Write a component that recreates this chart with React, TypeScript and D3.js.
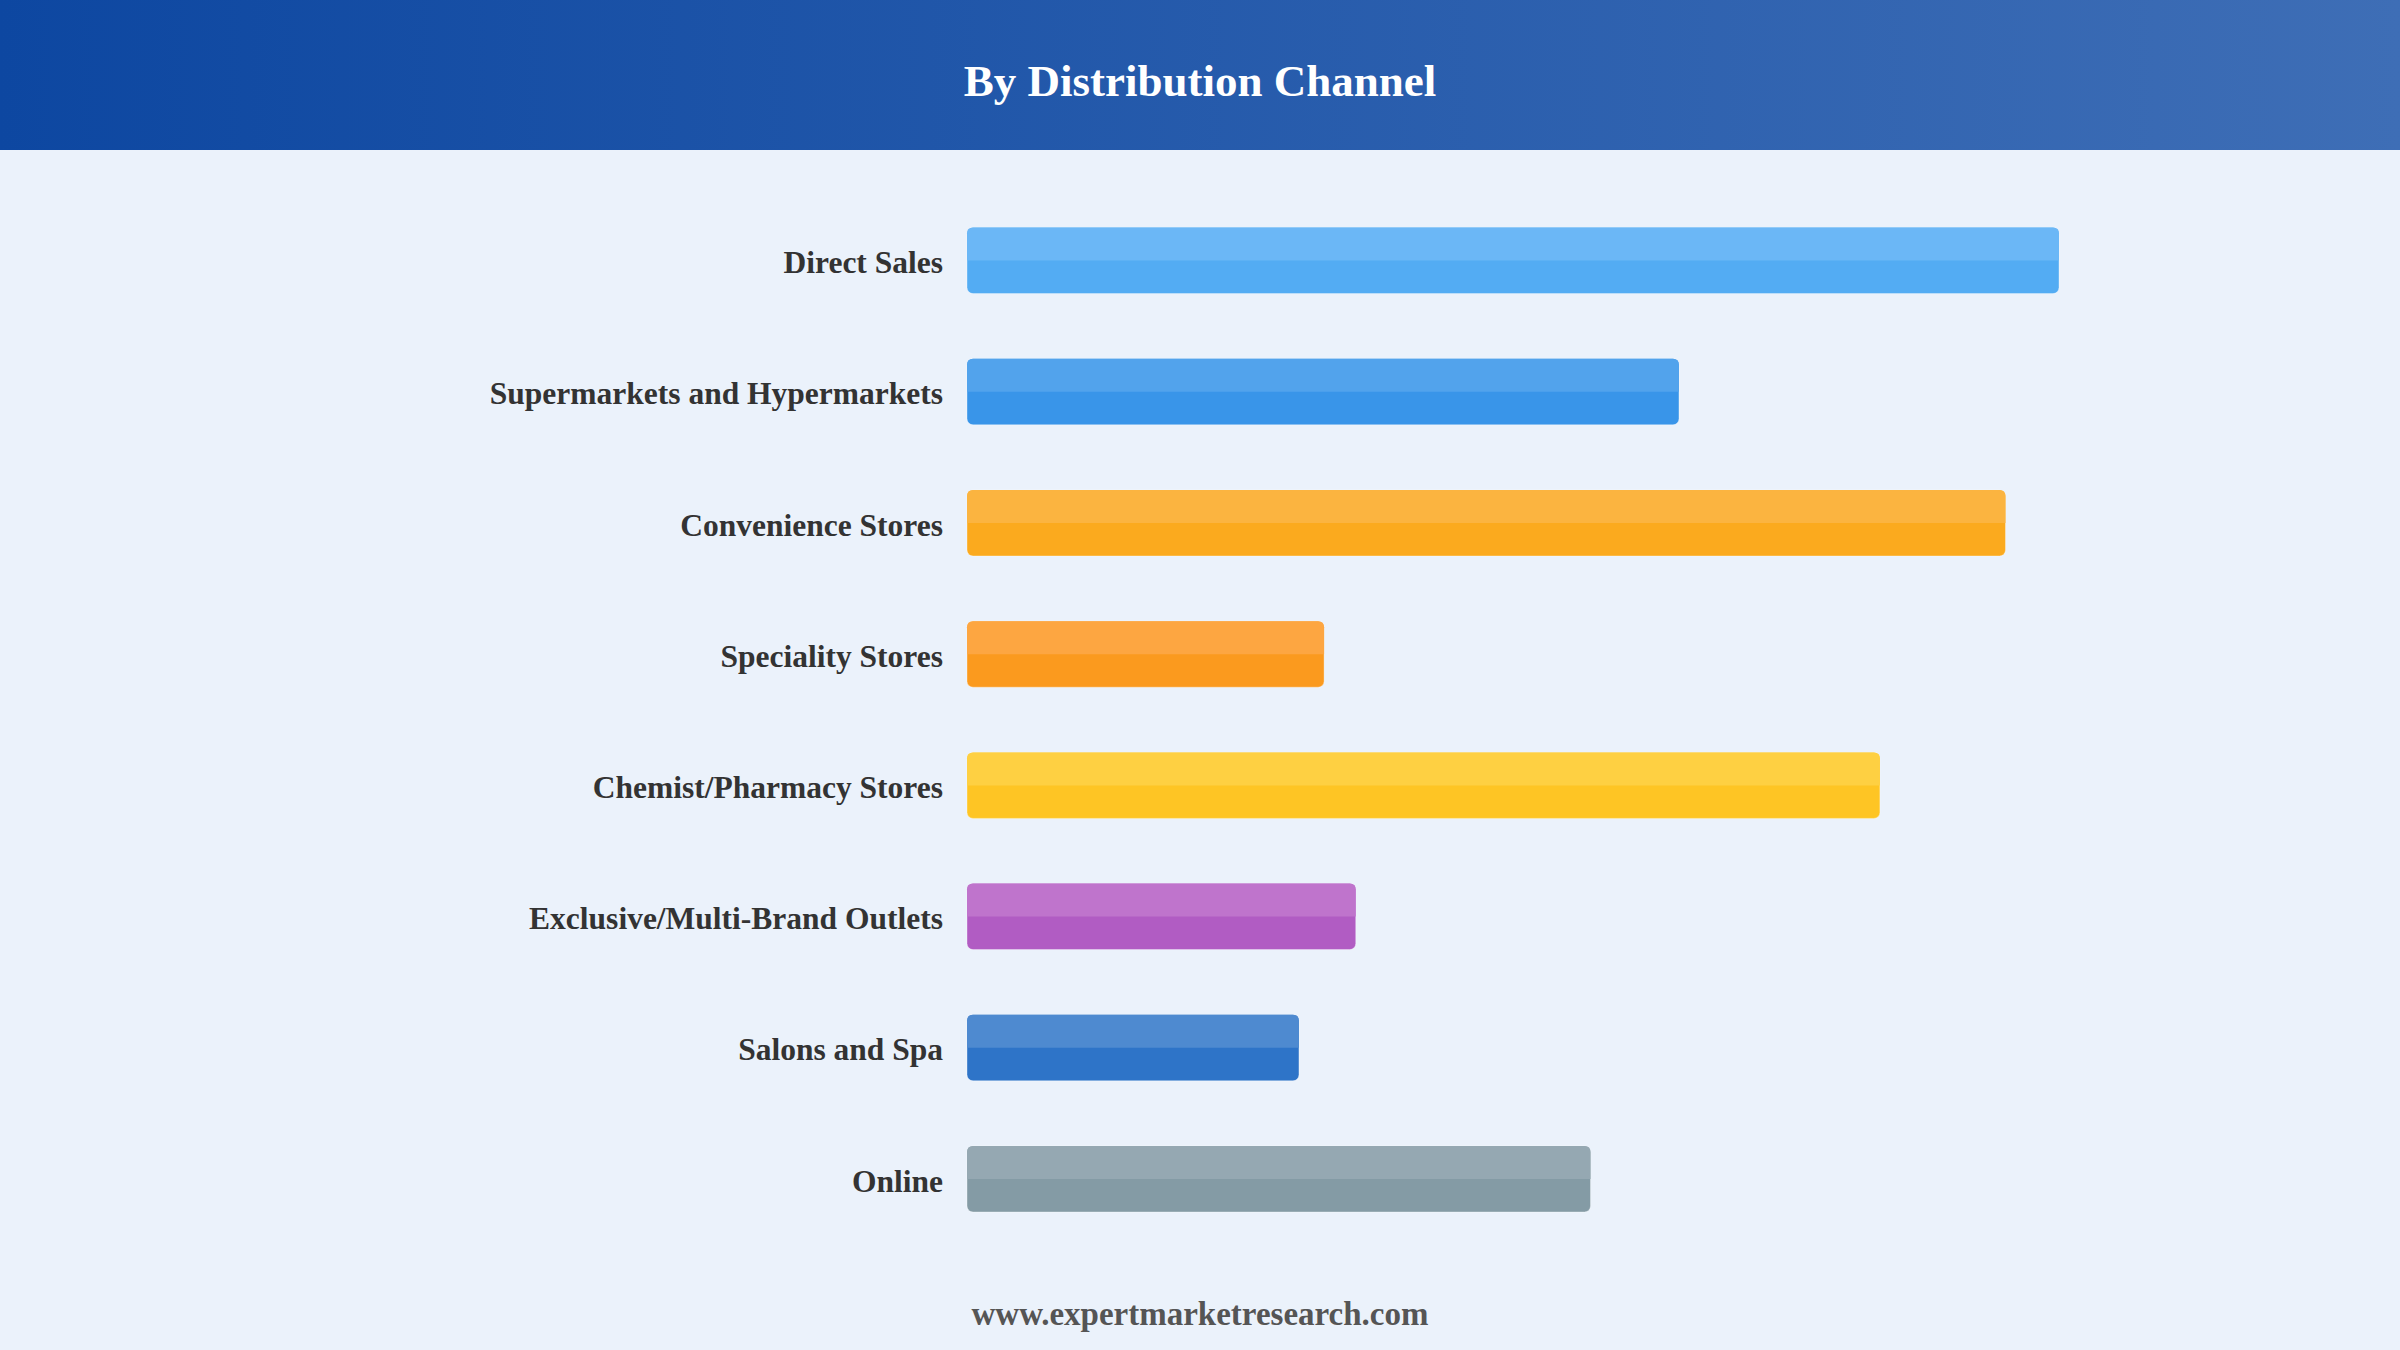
import React from "react";
import * as d3 from "d3";

const categories = [
  "Direct Sales",
  "Supermarkets and Hypermarkets",
  "Convenience Stores",
  "Speciality Stores",
  "Chemist/Pharmacy Stores",
  "Exclusive/Multi-Brand Outlets",
  "Salons and Spa",
  "Online",
];
const values = [100, 65.2, 95.1, 32.7, 83.6, 35.6, 30.4, 57.1];
const baseColors = ["#53ACF3", "#3995E9", "#FBAA1E", "#FB9A1E", "#FEC524", "#B15CC3", "#2E74C8", "#849BA5"];
const topColors = ["#6BB7F6", "#52A3EC", "#FBB440", "#FDA641", "#FED042", "#BF74CC", "#4E8AD0", "#95A8B2"];
const title = "By Distribution Channel";
const footer = "www.expertmarketresearch.com";

const W = 2400;
const H = 1350;
const HEADER_H = 150;

export default function App() {
  const x = d3.scaleLinear().domain([0, 100]).range([967, 2059]);
  const pad = 0.497;
  const y = d3
    .scaleBand<string>()
    .domain(categories)
    .range([195, 195 + 131.2 * categories.length])
    .paddingInner(pad)
    .paddingOuter(pad / 2);
  const bw = y.bandwidth();
  const r = 6;
  const font = "'Liberation Serif', 'Times New Roman', serif";

  return (
    <svg
      width={W}
      height={H}
      style={{ position: "absolute", left: 0, top: 0, display: "block" }}
    >
      <defs>
        <linearGradient id="hdr" x1="0" y1="0" x2="1" y2="0">
          <stop offset="0%" stopColor="#0D47A1" />
          <stop offset="100%" stopColor="#3E6EB6" />
        </linearGradient>
      </defs>
      <rect x={0} y={0} width={W} height={H} fill="#EBF2FB" />
      <rect x={0} y={0} width={W} height={HEADER_H} fill="url(#hdr)" />
      <text
        x={W / 2}
        y={96}
        textAnchor="middle"
        fill="#FFFFFF"
        fontFamily={font}
        fontWeight="bold"
        fontSize={45}
      >
        {title}
      </text>
      {categories.map((c, i) => {
        const y0 = y(c)!;
        const x0 = x(0);
        const w = x(values[i]) - x0;
        const half = bw / 2;
        return (
          <g key={c}>
            <text
              x={943}
              y={y0 + bw / 2 + 1.5}
              dy="0.35em"
              textAnchor="end"
              fill="#333333"
              fontFamily={font}
              fontWeight="bold"
              fontSize={31.5}
            >
              {c}
            </text>
            <rect
              x={x0}
              y={y0}
              width={w}
              height={bw}
              rx={r}
              ry={r}
              fill={baseColors[i]}
              stroke="#ffffff"
              strokeOpacity={0.35}
              strokeWidth={1}
            />
            <path
              d={`M${x0},${y0 + half} L${x0},${y0 + r} Q${x0},${y0} ${x0 + r},${y0} L${x0 + w - r},${y0} Q${x0 + w},${y0} ${x0 + w},${y0 + r} L${x0 + w},${y0 + half} Z`}
              fill={topColors[i]}
            />
          </g>
        );
      })}
      <text
        x={W / 2}
        y={1325}
        textAnchor="middle"
        fill="#555555"
        fontFamily={font}
        fontWeight="bold"
        fontSize={33}
      >
        {footer}
      </text>
    </svg>
  );
}
